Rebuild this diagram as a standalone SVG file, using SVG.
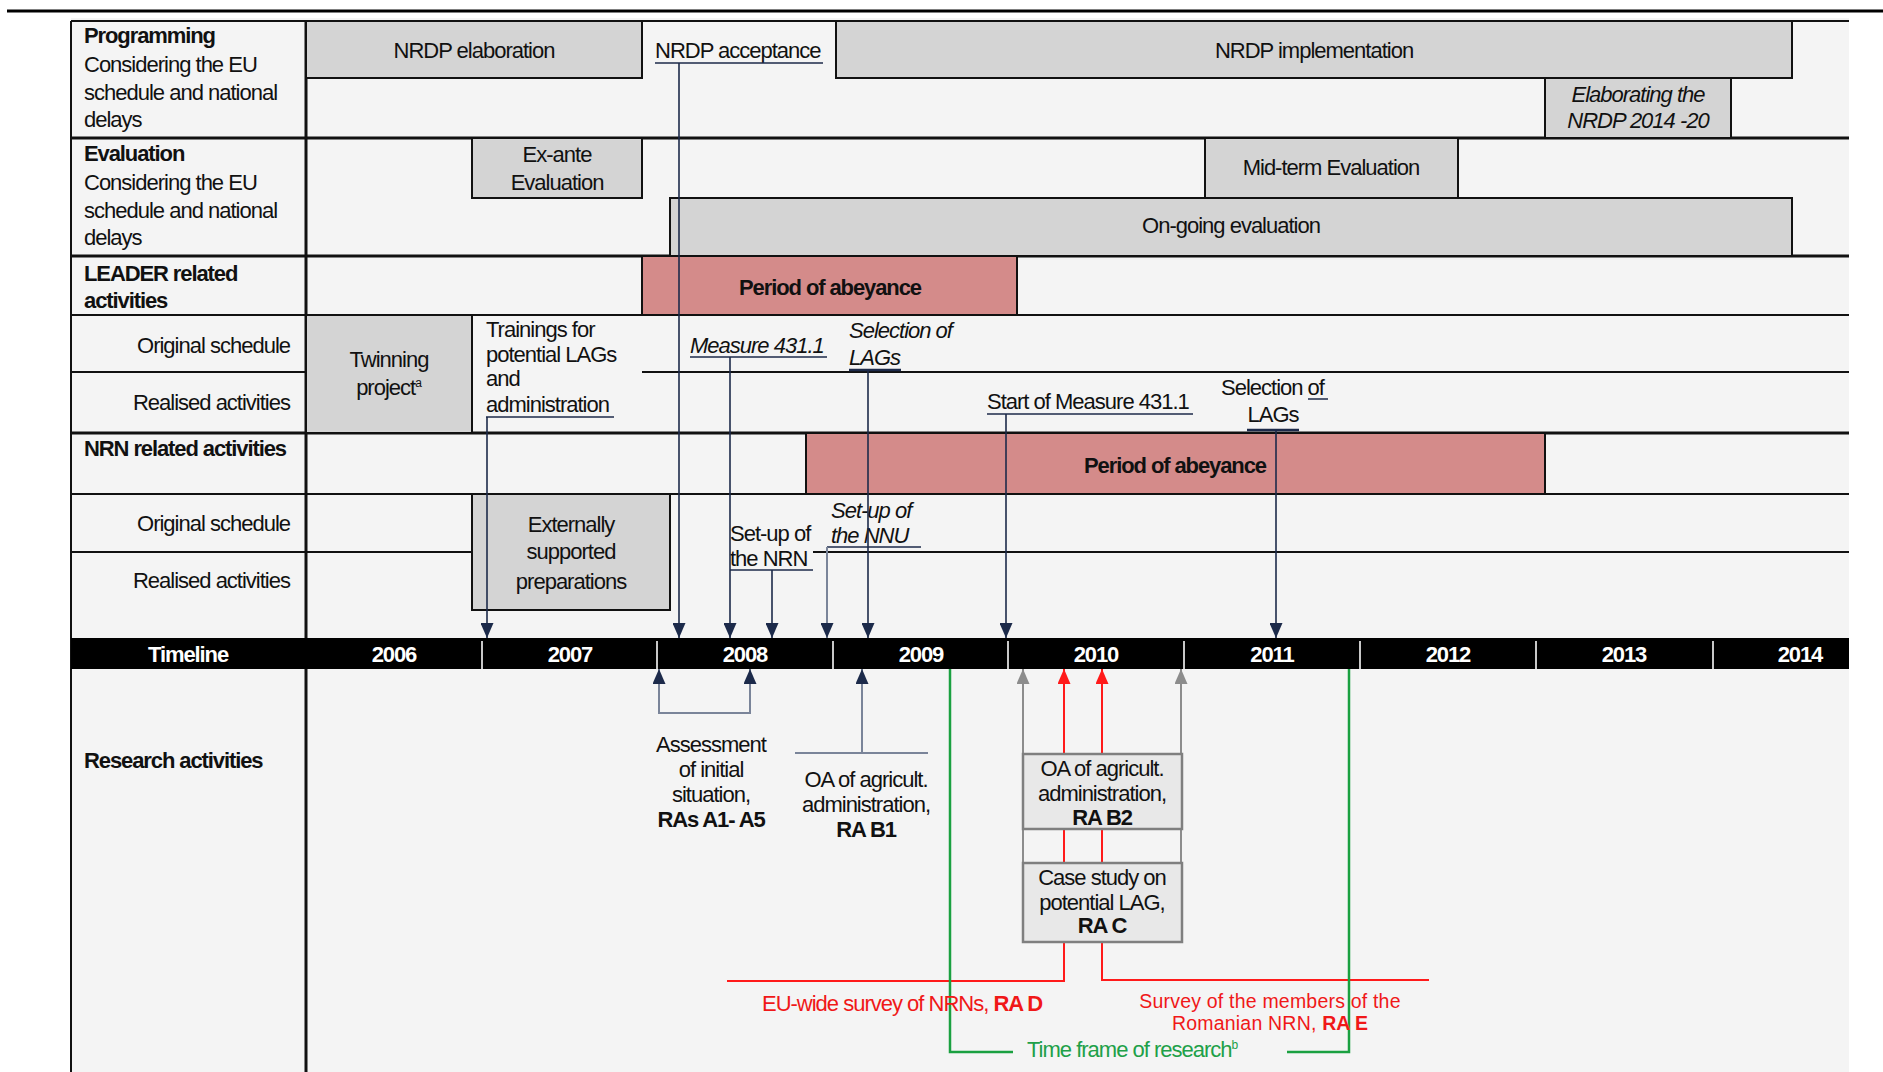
<svg xmlns="http://www.w3.org/2000/svg" width="1883" height="1072" viewBox="0 0 1883 1072">
<defs>
<style>
text{font-family:"Liberation Sans",Arial,sans-serif;font-size:22px;letter-spacing:-1px;fill:#111}
.b{font-weight:bold;letter-spacing:-1.1px}
.i{font-style:italic}
.m{text-anchor:middle}
.e{text-anchor:end}
.w{fill:#fff}
.r{fill:#f01818}
.g{fill:#20a048}
.sm{font-size:19.5px;letter-spacing:0.2px}
.sup{font-size:12px;letter-spacing:0}
.grid{stroke:#111;stroke-width:2;fill:none}
.thick{stroke-width:3}
.box{fill:#d4d4d4;stroke:#111;stroke-width:2}
.red{fill:#d48b8a;stroke:#111;stroke-width:2}
.rbox{fill:#e8e8e8;stroke:#7f7f7f;stroke-width:2.5}
.ul{stroke:#1c2a4a;stroke-width:1.5}
.ulb{stroke:#1c2a4a;stroke-width:2.5}
.nav{stroke:#1c2a4a;stroke-width:1.6;fill:none}
.lgt{stroke:#7a8499;stroke-width:2;fill:none}
.gry{stroke:#8c8c8c;stroke-width:2;fill:none}
.rl{stroke:#ff1a1a;stroke-width:2;fill:none}
.gl{stroke:#1aa040;stroke-width:2.5;fill:none}
.sep{stroke:#c8c8c8;stroke-width:2}
</style>
<marker id="an" viewBox="0 0 15 13" refX="15" refY="6.5" markerWidth="15" markerHeight="13" markerUnits="userSpaceOnUse" orient="auto"><path d="M0,0 L15,6.5 L0,13 z" fill="#1c2a4a"/></marker>
<marker id="ag" viewBox="0 0 15 13" refX="15" refY="6.5" markerWidth="15" markerHeight="13" markerUnits="userSpaceOnUse" orient="auto"><path d="M0,0 L15,6.5 L0,13 z" fill="#8c8c8c"/></marker>
<marker id="ar" viewBox="0 0 15 13" refX="15" refY="6.5" markerWidth="15" markerHeight="13" markerUnits="userSpaceOnUse" orient="auto"><path d="M0,0 L15,6.5 L0,13 z" fill="#ff1a1a"/></marker>
</defs>
<rect x="0" y="0" width="1883" height="1072" fill="#fff"/>
<rect x="71" y="18" width="1778" height="1054" fill="#f4f4f4"/>
<line x1="7" y1="11" x2="1883" y2="11" stroke="#000" stroke-width="3"/>

<g id="grid">
<line class="grid" x1="71" y1="21" x2="1849" y2="21"/>
<line class="grid thick" x1="71" y1="138" x2="1849" y2="138"/>
<line class="grid thick" x1="71" y1="256" x2="1849" y2="256"/>
<line class="grid" x1="71" y1="315" x2="1849" y2="315"/>
<line class="grid" x1="71" y1="372" x2="306" y2="372"/>
<line class="grid" x1="642" y1="372" x2="1849" y2="372"/>
<line class="grid thick" x1="71" y1="433" x2="1849" y2="433"/>
<line class="grid" x1="71" y1="494" x2="1849" y2="494"/>
<line class="grid" x1="71" y1="552" x2="472" y2="552"/>
<line class="grid" x1="813" y1="552" x2="1849" y2="552"/>
<line class="grid" x1="71" y1="21" x2="71" y2="1072"/>
<line class="grid thick" x1="306" y1="21" x2="306" y2="1072"/>
</g>

<g id="labels">
<g id="lbl-programming">
<text class="b" x="84" y="43">Programming</text>
<text x="84" y="72">Considering the EU</text>
<text x="84" y="100">schedule and national</text>
<text x="84" y="127">delays</text>
</g>
<g id="lbl-evaluation">
<text class="b" x="84" y="161">Evaluation</text>
<text x="84" y="190">Considering the EU</text>
<text x="84" y="218">schedule and national</text>
<text x="84" y="245">delays</text>
</g>
<g id="lbl-leader">
<text class="b" x="84" y="281">LEADER related</text>
<text class="b" x="84" y="308">activities</text>
<text class="e" x="290" y="353">Original schedule</text>
<text class="e" x="290" y="410">Realised activities</text>
</g>
<g id="lbl-nrn">
<text class="b" x="84" y="456">NRN related activities</text>
<text class="e" x="290" y="531">Original schedule</text>
<text class="e" x="290" y="588">Realised activities</text>
</g>
<g id="lbl-research">
<text class="b" x="84" y="768">Research activities</text>
</g>
</g>

<g id="timeline">
<rect x="71" y="638" width="1778" height="31" fill="#000"/>
<line class="sep" x1="482" y1="641" x2="482" y2="669"/>
<line class="sep" x1="657" y1="641" x2="657" y2="669"/>
<line class="sep" x1="833" y1="641" x2="833" y2="669"/>
<line class="sep" x1="1008" y1="641" x2="1008" y2="669"/>
<line class="sep" x1="1184" y1="641" x2="1184" y2="669"/>
<line class="sep" x1="1360" y1="641" x2="1360" y2="669"/>
<line class="sep" x1="1536" y1="641" x2="1536" y2="669"/>
<line class="sep" x1="1713" y1="641" x2="1713" y2="669"/>
<text class="b w m" x="188" y="662">Timeline</text>
<text class="b w m" x="394" y="662">2006</text>
<text class="b w m" x="570" y="662">2007</text>
<text class="b w m" x="745" y="662">2008</text>
<text class="b w m" x="921" y="662">2009</text>
<text class="b w m" x="1096" y="662">2010</text>
<text class="b w m" x="1272" y="662">2011</text>
<text class="b w m" x="1448" y="662">2012</text>
<text class="b w m" x="1624" y="662">2013</text>
<text class="b w m" x="1800" y="662">2014</text>
</g>

<g id="nrdp-elaboration"><rect class="box" x="306" y="21" width="336" height="57"/><text class="m" x="474" y="58">NRDP elaboration</text></g>
<g id="nrdp-acceptance"><text x="655" y="58">NRDP acceptance</text><line class="ul" x1="655" y1="63" x2="823" y2="63"/></g>
<g id="nrdp-implementation"><rect class="box" x="836" y="21" width="956" height="57"/><text class="m" x="1314" y="58">NRDP implementation</text></g>
<g id="elaborating-nrdp"><rect class="box" x="1545" y="78" width="186" height="60"/><text class="m i" x="1638" y="102">Elaborating the</text><text class="m i" x="1638" y="128">NRDP 2014 -20</text></g>
<g id="ex-ante"><rect class="box" x="472" y="138" width="170" height="60"/><text class="m" x="557" y="162">Ex-ante</text><text class="m" x="557" y="190">Evaluation</text></g>
<g id="mid-term"><rect class="box" x="1205" y="138" width="253" height="60"/><text class="m" x="1331" y="175">Mid-term Evaluation</text></g>
<g id="on-going"><rect class="box" x="670" y="198" width="1122" height="58"/><text class="m" x="1231" y="233">On-going evaluation</text></g>
<g id="leader-abeyance"><rect class="red" x="642" y="256" width="375" height="59"/><text class="m b" x="830" y="295">Period of abeyance</text></g>
<g id="twinning"><rect class="box" x="306" y="315" width="166" height="118"/><text class="m" x="389" y="367">Twinning</text><text class="m" x="389" y="395">project<tspan class="sup" dy="-8">a</tspan></text></g>
<g id="trainings"><text x="486" y="337">Trainings for</text><text x="486" y="362">potential LAGs</text><text x="486" y="386">and</text><text x="486" y="412">administration</text><line class="ul" x1="486" y1="417" x2="614" y2="417"/></g>
<g id="measure-431"><text class="i" x="690" y="353">Measure 431.1</text><line class="ul" x1="690" y1="357" x2="827" y2="357"/></g>
<g id="selection-lags-1"><text class="i" x="849" y="338">Selection of</text><text class="i" x="849" y="365">LAGs</text><line class="ulb" x1="849" y1="370" x2="901" y2="370"/></g>
<g id="start-measure"><text x="987" y="409">Start of Measure 431.1</text><line class="ul" x1="987" y1="414" x2="1193" y2="414"/></g>
<g id="selection-lags-2"><text x="1221" y="395">Selection of</text><text class="m" x="1273" y="422">LAGs</text><line class="ul" x1="1308" y1="399" x2="1328" y2="399"/><line class="ulb" x1="1247" y1="430" x2="1299" y2="430"/></g>
<g id="nrn-abeyance"><rect class="red" x="806" y="433" width="739" height="61"/><text class="m b" x="1175" y="473">Period of abeyance</text></g>
<g id="externally"><rect class="box" x="472" y="494" width="198" height="116"/><text class="m" x="571" y="532">Externally</text><text class="m" x="571" y="559">supported</text><text class="m" x="571" y="589">preparations</text></g>
<g id="setup-nrn"><text x="730" y="541">Set-up of</text><text x="730" y="566">the NRN</text><line class="ul" x1="730" y1="570" x2="813" y2="570"/></g>
<g id="setup-nnu"><text class="i" x="831" y="518">Set-up of</text><text class="i" x="831" y="543">the NNU</text><line class="ul" x1="827" y1="547" x2="921" y2="547"/></g>

<g id="connectors">
<path class="nav" d="M487,417 V638" marker-end="url(#an)"/>
<path class="nav" d="M679,63 V638" marker-end="url(#an)"/>
<path class="nav" d="M730,357 V638" marker-end="url(#an)"/>
<path class="nav" d="M772,570 V638" marker-end="url(#an)"/>
<path class="lgt" d="M827,547 V638" marker-end="url(#an)"/>
<path class="nav" d="M868,370 V638" marker-end="url(#an)"/>
<path class="nav" d="M1006,414 V638" marker-end="url(#an)"/>
<path class="nav" d="M1276,430 V638" marker-end="url(#an)"/>
<path class="lgt" d="M659,713 V669" marker-end="url(#an)"/>
<path class="lgt" d="M750,713 V669" marker-end="url(#an)"/>
<path class="lgt" d="M658,713 H751"/>
<path class="lgt" d="M862,753 V669" marker-end="url(#an)"/>
<path class="lgt" d="M795,753 H928"/>
<path class="gry" d="M1023,900 V669" marker-end="url(#ag)"/>
<path class="gry" d="M1181,900 V669" marker-end="url(#ag)"/>
<path class="rl" d="M727,981 H1064 V669" marker-end="url(#ar)"/>
<path class="rl" d="M1429,980 H1102 V669" marker-end="url(#ar)"/>
<path class="gl" d="M950,669 V1052 H1013"/>
<path class="gl" d="M1287,1052 H1349 V669"/>
</g>

<g id="assessment"><text class="m" x="711" y="752">Assessment</text><text class="m" x="711" y="777">of initial</text><text class="m" x="711" y="802">situation,</text><text class="m b" x="711" y="827">RAs A1- A5</text></g>
<g id="oa-b1"><text class="m" x="866" y="787">OA of agricult.</text><text class="m" x="866" y="812">administration,</text><text class="m b" x="866" y="837">RA B1</text></g>
<g id="oa-b2"><rect class="rbox" x="1023" y="754" width="159" height="75"/><text class="m" x="1102" y="776">OA of agricult.</text><text class="m" x="1102" y="801">administration,</text><text class="m b" x="1102" y="825">RA B2</text></g>
<g id="case-c"><rect class="rbox" x="1023" y="863" width="159" height="79"/><text class="m" x="1102" y="885">Case study on</text><text class="m" x="1102" y="910">potential LAG,</text><text class="m b" x="1102" y="933">RA C</text></g>
<g id="ra-d"><text class="m r" x="902" y="1011">EU-wide survey of NRNs, <tspan class="b">RA D</tspan></text></g>
<g id="ra-e"><text class="m r sm" x="1270" y="1008">Survey of the members of the</text><text class="m r sm" x="1270" y="1030">Romanian NRN, <tspan class="b" style="letter-spacing:0px">RA E</tspan></text></g>
<g id="time-frame"><text class="g" x="1027" y="1057">Time frame of research<tspan class="sup" dy="-8">b</tspan></text></g>
</svg>
